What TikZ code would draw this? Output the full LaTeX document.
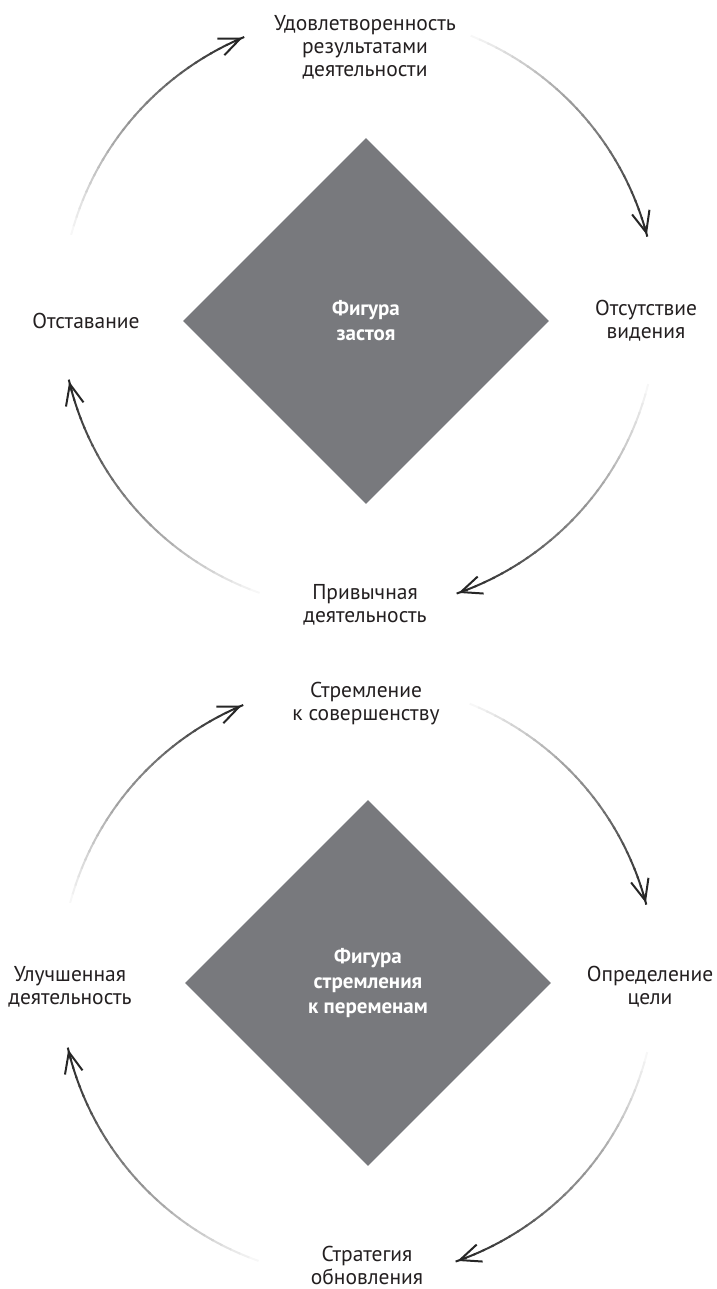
\documentclass[tikz,border=0pt]{standalone}
\usepackage{fontspec}
\setmainfont{PT Sans}
\usetikzlibrary{arrows.meta, calc, shapes.geometric}
\definecolor{figgray}{RGB}{120,121,125}
\definecolor{txtdark}{RGB}{35,31,32}
\tikzset{
  stage/.style={align=center, text=txtdark, inner sep=0pt,
    font=\fontsize{21.5}{23}\selectfont},
  figure/.style={diamond, aspect=1, fill=figgray, inner sep=0pt,
    minimum width=366pt, minimum height=366pt, align=center, text=white,
    font=\bfseries\fontsize{21}{25}\selectfont},
  barb/.style={-{Straight Barb[length=21pt, width=18pt]}, line width=2pt, black!85},
}

\begin{document}
\begin{tikzpicture}[x=1pt, y=1pt]
    \useasboundingbox (0,0) rectangle (716,-1289);
    \pgfmathsetmacro{\R}{298}
    \coordinate (ctop) at (359,-312);
    \coordinate (cbot) at (358,-980);

    % the two figures
    \node[figure] (stagnation) at (366,-321) {Фигура\\застоя};
    \node[figure] (change) at (368,-983) {Фигура\\стремления\\к переменам};

    % stages of stagnation
    \node[stage] (satisf) at (365,-47) {Удовлетворенность\\результатами\\деятельности};
    \node[stage] (novision) at (646,-321) {Отсутствие\\видения};
    \node[stage] (routine) at (365,-605) {Привычная\\деятельность};
    \node[stage] (lag) at (86,-321) {Отставание};

    % stages of change
    \node[stage] (perfect) at (366,-704) {Стремление\\к совершенству};
    \node[stage] (goal) at (650,-987) {Определение\\цели};
    \node[stage] (strategy) at (367,-1265) {Стратегия\\обновления};
    \node[stage] (improved) at (70,-987) {Улучшенная\\деятельность};

    % fading arcs, light at the start, dark at the tip
    \foreach \ctr in {ctop, cbot}
      \foreach \sa/\ea in {165/113, 68/15, -14/-70.5, -109.5/-166.5} {
        \foreach \k in {0,...,29} {
          \pgfmathsetmacro{\ta}{\sa+(\ea-\sa)*\k/30}
          \pgfmathsetmacro{\tb}{\sa+(\ea-\sa)*(\k+1.2)/30}
          \pgfmathsetmacro{\tone}{3+82*\k/29}
          \draw[line width=2pt, black!\tone] ($(\ctr)+(\ta:\R)$)
            arc[start angle=\ta, end angle=\tb, radius=\R];
        }
        \draw[barb] ($(\ctr)+(\ea:\R)+(\ea+90:3)$) -- ($(\ctr)+(\ea:\R)$);
      }
\end{tikzpicture}
\end{document}
